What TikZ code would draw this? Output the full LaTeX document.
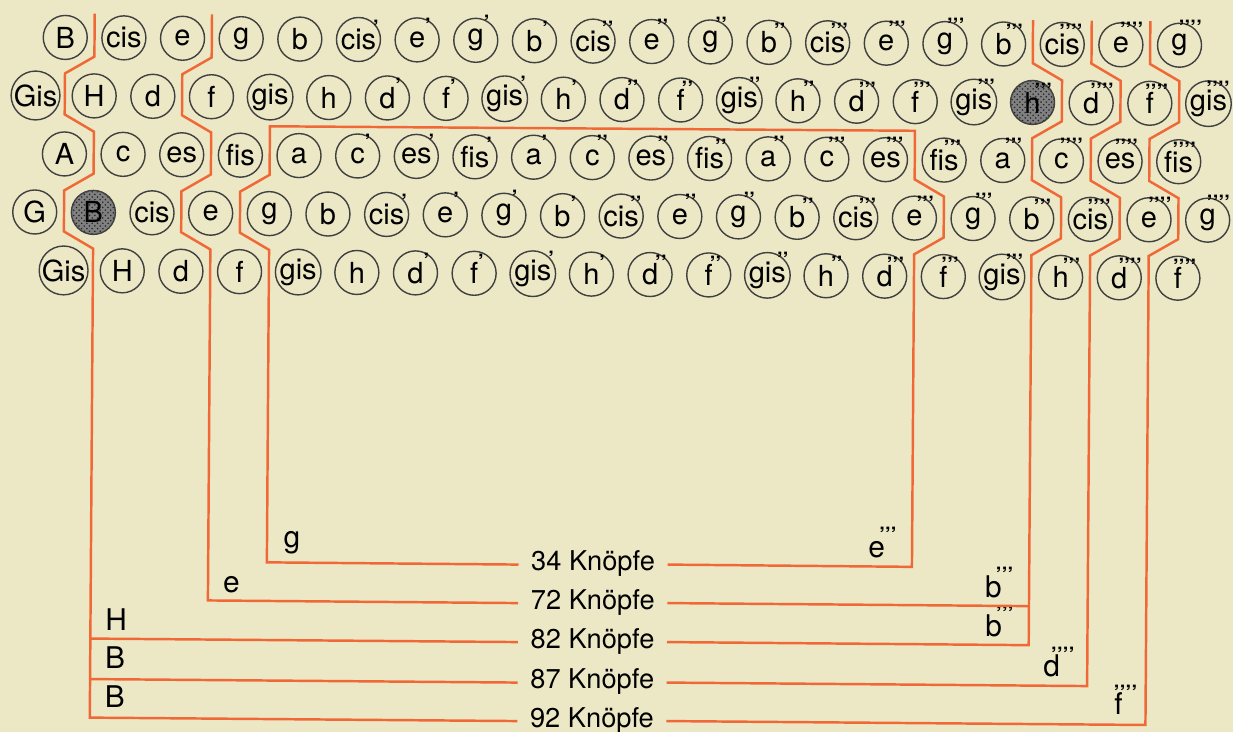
\documentclass[tikz,border=0pt]{standalone}
\usepackage{fontspec}
\setmainfont{TeX Gyre Heros}
\usepackage{xcolor}
\usepackage{tikz}
\usetikzlibrary{patterns}

\definecolor{paper}{RGB}{236,232,198}
\definecolor{rangeline}{RGB}{239,104,54}

% primes: small, raised, taking no room of their own
\newcommand\prm[1]{\raisebox{.5em}[0pt][0pt]{\fontsize{12}{12}\bfseries\selectfont
  \ifcase#1\or ’\or ’’\or ’’’\or ’’’’\fi}}
\newcommand\nt[2]{\sbox0{#1}\usebox0%
  \ifdim\wd0>.75em\makebox[0pt][r]{\prm{#2}\kern-.1em}%
  \else\makebox[0pt][l]{\kern.1em\makebox[0pt][c]{\prm{#2}}}\fi}

\begin{document}
\begin{tikzpicture}[
  x=0.02cm, y=-0.02cm,
  every node/.style={font=\fontsize{16.5}{18}\selectfont},
  key/.style={circle, draw=black!75, line width=0.8pt, minimum size=0.88cm, inner sep=0pt},
  skey/.style={key, preaction={fill=black!50}, pattern=crosshatch dots, pattern color=black!85},
  rng/.style={draw=rangeline, line width=1.4pt},
  cnt/.style={font=\fontsize{15.5}{18}\selectfont, inner xsep=7pt, inner ysep=0pt,
              text height=10.6pt, text depth=3.8pt},
  lim/.style={font=\fontsize{17}{18}\selectfont, inner sep=0pt, anchor=base west},
]
\fill[paper] (0,0) rectangle (1233,732);
\useasboundingbox (0,0) rectangle (1233,732);

\begin{scope}[rotate=-0.4]   % the page lies a little askew

%% ── keyboard, five rows ──────────────────────────────────────────────
\foreach \n/\p [count=\i from 0] in {B/0,cis/0,e/0,g/0,b/0,cis/1,e/1,g/1,b/1,cis/2,
    e/2,g/2,b/2,cis/3,e/3,g/3,b/3,cis/4,e/4,g/4}
  \node[key] (r1k\i) at (65.5+58.65*\i,37) {\nt{\n}{\p}};

\foreach \n/\p [count=\i from 0] in {Gis/0,H/0,d/0,f/0,gis/0,h/0,d/1,f/1,gis/1,h/1,
    d/2,f/2,gis/2,h/2,d/3,f/3,gis/3,h/3,d/4,f/4,gis/4}{
  \ifnum\i=17 \def\ks{skey}\else\def\ks{key}\fi
  \node[\ks] (r2k\i) at (36.2+58.65*\i,95.25) {\nt{\n}{\p}};
}

\foreach \n/\p [count=\i from 0] in {A/0,c/0,es/0,fis/0,a/0,c/1,es/1,fis/1,a/1,c/2,
    es/2,fis/2,a/2,c/3,es/3,fis/3,a/3,c/4,es/4,fis/4}
  \node[key] (r3k\i) at (65.5+58.65*\i,153.5) {\nt{\n}{\p}};

\foreach \n/\p [count=\i from 0] in {G/0,B/0,cis/0,e/0,g/0,b/0,cis/1,e/1,g/1,b/1,
    cis/2,e/2,g/2,b/2,cis/3,e/3,g/3,b/3,cis/4,e/4,g/4}{
  \ifnum\i=1 \def\ks{skey}\else\def\ks{key}\fi
  \node[\ks] (r4k\i) at (36.2+58.65*\i,211.75) {\nt{\n}{\p}};
}

\foreach \n/\p [count=\i from 0] in {Gis/0,H/0,d/0,f/0,gis/0,h/0,d/1,f/1,gis/1,h/1,
    d/2,f/2,gis/2,h/2,d/3,f/3,gis/3,h/3,d/4,f/4}
  \node[key] (r5k\i) at (65.5+58.65*\i,270) {\nt{\n}{\p}};

%% ── button counts ────────────────────────────────────────────────────
\node[cnt] (n34) at (597,560.5) {34 Knöpfe};
\node[cnt] (n72) at (597,599)   {72 Knöpfe};
\node[cnt] (n82) at (597,638)   {82 Knöpfe};
\node[cnt] (n87) at (597,678.5) {87 Knöpfe};
\node[cnt] (n92) at (597,717)   {92 Knöpfe};

% first and last key of each range
\node[lim] (from34) at (287,546)     {g};
\node[lim] (to34)   at (872,551)     {\nt{e}{3}};
\node[lim] (from72) at (227,590.5)   {e};
\node[lim] (to72)   at (989,591)     {\nt{b}{3}};
\node[lim] (from82) at (109.5,629.5) {H};
\node[lim] (to82)   at (989.5,630)   {\nt{b}{3}};
\node[lim] (from87) at (109.5,667.5) {B};
\node[lim] (to87)   at (1047.7,669.7) {\nt{d}{4}};
\node[lim] (from92) at (109.5,706.3) {B};
\node[lim] (to92)   at (1119,707.2)  {\nt{f}{4}};

%% ── range borders ────────────────────────────────────────────────────
% 34: g .. e'''
\draw[rng] (n34.west) -- (270.8,560.5) -- (270.8,248) -- (241.5,231) -- (241.5,190)
  -- (270.8,173) -- (270.8,124.4) -- (915.9,124.4) -- (915.9,173) -- (945.3,190)
  -- (945.3,231) -- (915.9,248) -- (915.9,560.5) -- (n34.east);

% 72: e .. b'''
\draw[rng] (212.1,13) -- (212.1,56) -- (182.8,73) -- (182.8,114) -- (212.1,131)
  -- (212.1,173) -- (182.8,190) -- (182.8,231) -- (212.1,248) -- (212.1,599) -- (n72.west);
\coordinate (h72) at (1033.2,599);
\draw[rng] (n72.east) -- (h72);

% 82, 87, 92: common left border
\draw[rng] (94.8,13) -- (94.8,56) -- (65.5,73) -- (65.5,114) -- (94.8,131) -- (94.8,173)
  -- (65.5,190) -- (65.5,231) -- (94.8,248) -- (94.8,717) -- (n92.west);
\coordinate (h82) at (94.8,638);
\coordinate (h87) at (94.8,678.5);
\draw[rng] (h82) -- (n82.west);
\draw[rng] (h87) -- (n87.west);

% right borders: b''', d'''', f''''
\draw[rng] (1033.2,13) -- (1033.2,56) -- (1062.6,73) -- (1062.6,114) -- (1033.2,131)
  -- (1033.2,173) -- (1062.6,190) -- (1062.6,231) -- (1033.2,248) -- (1033.2,638) -- (n82.east);
\draw[rng] (1091.9,13) -- (1091.9,56) -- (1121.2,73) -- (1121.2,114) -- (1091.9,131)
  -- (1091.9,173) -- (1121.2,190) -- (1121.2,231) -- (1091.9,248) -- (1091.9,678.5) -- (n87.east);
\draw[rng] (1150.5,13) -- (1150.5,56) -- (1179.9,73) -- (1179.9,114) -- (1150.5,131)
  -- (1150.5,173) -- (1179.9,190) -- (1179.9,231) -- (1150.5,248) -- (1150.5,717) -- (n92.east);

\end{scope}
\end{tikzpicture}
\end{document}
